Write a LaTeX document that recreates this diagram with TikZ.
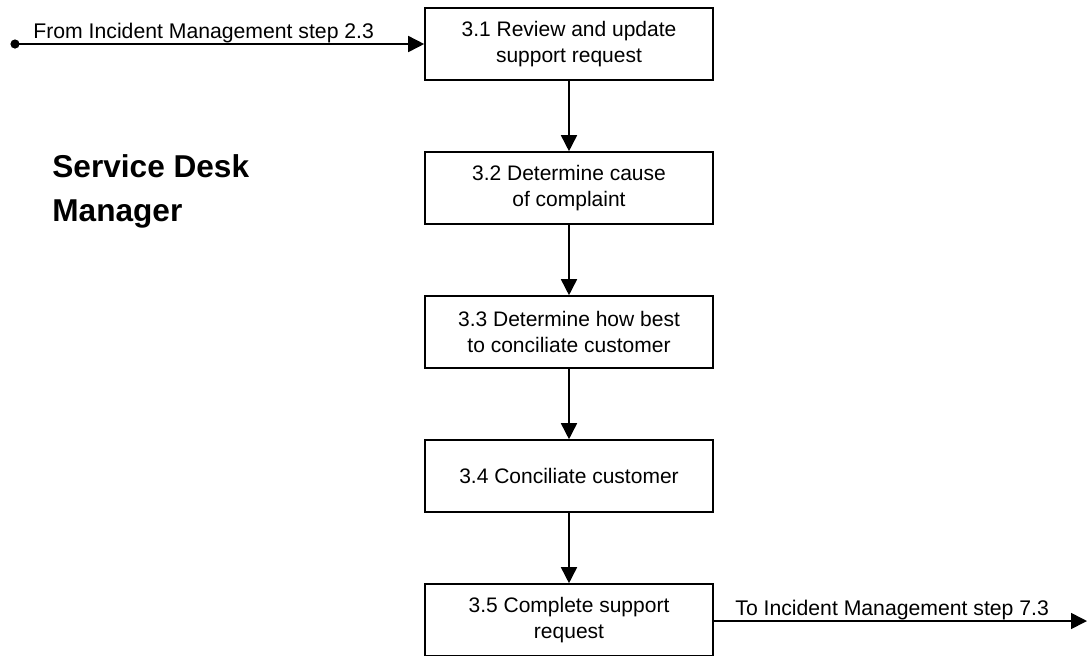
\documentclass[tikz,border=0pt]{standalone}
\usepackage{fontspec}
\setmainfont{Liberation Sans}
\usetikzlibrary{arrows.meta}
\begin{document}
\begin{tikzpicture}[x=0.5pt,y=-0.5pt,
  stepbox/.style={draw=black,line width=0.8pt,rectangle,minimum width=144pt,minimum height=36pt,inner sep=0pt,align=center,
    font=\fontsize{10.5pt}{13pt}\selectfont},
  flow/.style={draw=black,line width=0.8pt,-{Triangle[length=8pt,width=8pt]}},
  lbl/.style={anchor=base west,inner sep=0pt,font=\fontsize{10.6pt}{12.5pt}\selectfont}]
\useasboundingbox (0,0) rectangle (1088,655);
\node[stepbox] (b1) at (569,44) {3.1 Review and update\\support request};
\node[stepbox] (b2) at (569,188) {3.2 Determine cause\\of complaint};
\node[stepbox] (b3) at (569,332) {3.3 Determine how best\\to conciliate customer};
\node[stepbox] (b4) at (569,476) {3.4 Conciliate customer};
\node[stepbox] (b5) at (569,620) {3.5 Complete support\\request};
\coordinate (start) at (15,44);
\coordinate (end) at (1087,621);
\fill[black] (start) circle (2.3pt);
\draw[flow] (start) -- (b1.west);
\draw[flow] (b1) -- (b2);
\draw[flow] (b2) -- (b3);
\draw[flow] (b3) -- (b4);
\draw[flow] (b4) -- (b5);
\draw[flow] (b5.east |- end) -- (end);
\node[lbl] (lin) at (33,38) {From Incident Management step 2.3};
\node[lbl] (lout) at (735,615) {To Incident Management step 7.3};
\node[anchor=base west,inner sep=0pt,align=left,font=\fontsize{15.8pt}{22pt}\selectfont\bfseries] (role) at (52,221) {Service Desk\\Manager};
\end{tikzpicture}
\end{document}
